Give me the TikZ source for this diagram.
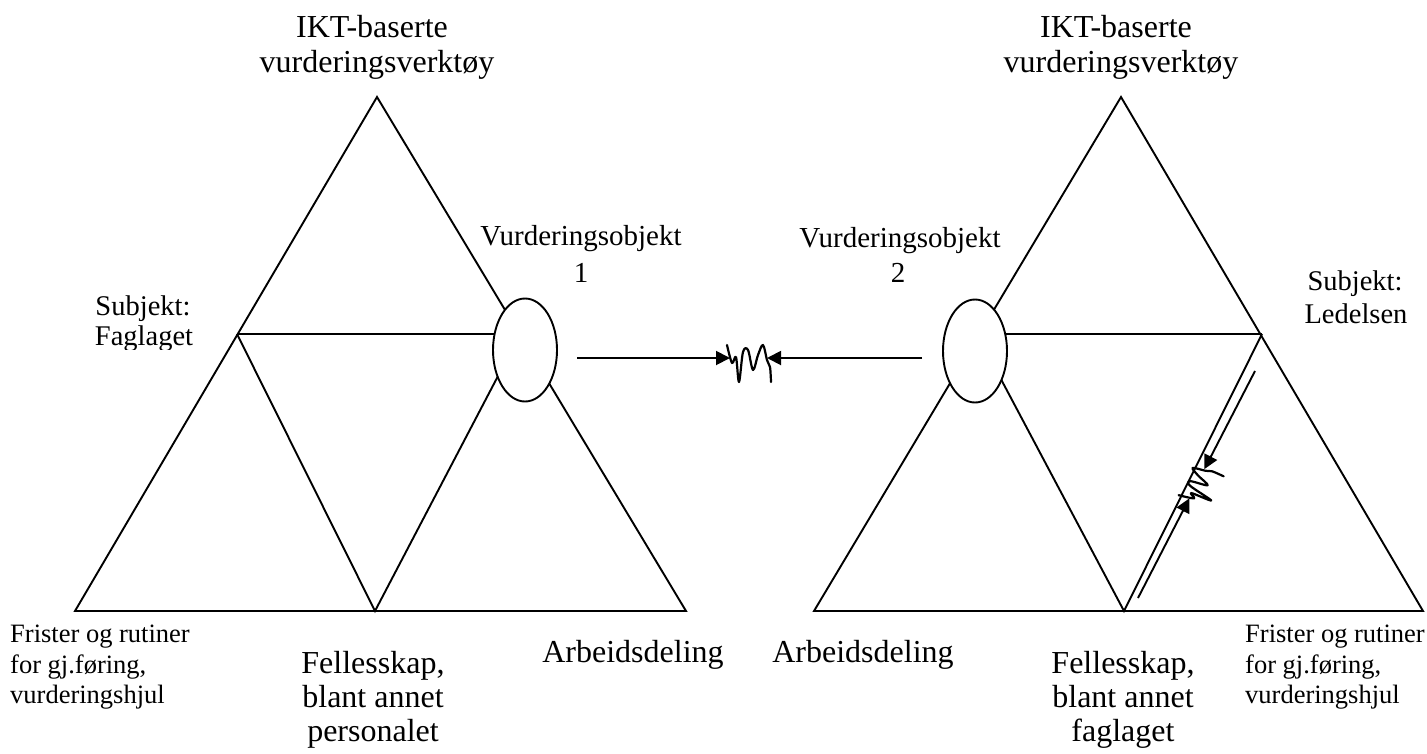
\documentclass[tikz,border=0pt]{standalone}
\usepackage{fontspec}
\setmainfont{Liberation Serif}
\usetikzlibrary{arrows.meta,shapes.geometric}
\begin{document}
\begin{tikzpicture}[x=1pt,y=-1pt,
  edge/.style={line width=1.9pt, line join=miter},
  bub/.style={ellipse, draw, line width=1.9pt, fill=white,
    minimum width=64pt, minimum height=103pt, inner sep=0pt},
  conflict/.style={line width=1.9pt, -{Triangle[length=14pt,width=14pt]}},
  lbl/.style={anchor=base, inner sep=0pt},
  big/.style={lbl, font=\fontsize{32}{38}\selectfont},
  mid/.style={lbl, font=\fontsize{29}{35}\selectfont},
  subj/.style={lbl, font=\fontsize{28.5}{34}\selectfont},
  small/.style={lbl, anchor=base west, font=\fontsize{26.5}{31}\selectfont},
  squiggle/.pic={
    \draw[line width=2.2pt, line cap=round, line join=round]
      plot[smooth, tension=0.55] coordinates {
        (0,-13) (5,5) (9,-1) (12,24) (16,-6) (21,-8) (26,12)
        (31,-3) (36,-13) (40,2) (43,9) (44,24)};
  }]
\useasboundingbox (0,0) rectangle (1427,753);

% ---------- left activity triangle ----------
\coordinate (LA) at (377,97);
\coordinate (LB) at (75,611);
\coordinate (LC) at (686,611);
\coordinate (LM) at (237,334);
\coordinate (LN) at (520,334);
\coordinate (LD) at (375,611);
\draw[edge] (LA) -- (LB) -- (LC) -- cycle;
\draw[edge] (LM) -- (LN);
\draw[edge] (LM) -- (LD) -- (LN);
\node[bub] (LE) at (525,350) {};

% ---------- right activity triangle ----------
\coordinate (RA) at (1121,97);
\coordinate (RB) at (814,611);
\coordinate (RC) at (1423,611);
\coordinate (RM) at (977,334);
\coordinate (RN) at (1262,334);
\coordinate (RD) at (1124,611);
\draw[edge] (RA) -- (RB) -- (RC) -- cycle;
\draw[edge] (RM) -- (RN);
\draw[edge] (RM) -- (RD) -- (RN);
\node[bub] (RE) at (975,351) {};

% ---------- conflict between the two assessment objects ----------
\coordinate (hL) at (577,358);
\coordinate (hLt) at (730,358);
\coordinate (hR) at (922,358);
\coordinate (hRt) at (767,358);
\draw[conflict] (hL) -- (hLt);
\draw[conflict] (hR) -- (hRt);
\pic at (727,358) {squiggle};

% ---------- conflict along the subject/community edge ----------
\coordinate (dB) at (1138,598);
\coordinate (dBt) at (1189.3,498.4);
\coordinate (dT) at (1255,371);
\coordinate (dTt) at (1204.4,469.1);
\coordinate (dS) at (1188.4,500.2);
\draw[conflict] (dB) -- (dBt);
\draw[conflict] (dT) -- (dTt);
\pic[rotate=62.7, scale=0.85] at (dS) {squiggle};

% ---------- labels, left ----------
\node[big] (ikt1a) at (372,37) {IKT-baserte};
\node[big] (ikt1b) at (377,72) {vurderingsverktøy};
\node[mid] (vo1a) at (581,245) {Vurderingsobjekt};
\node[mid] (vo1b) at (581,282) {1};
\node[subj] (sub1a) at (143,315) {Subjekt:};
\begin{scope}
  \clip (0,0) rectangle (300,349);
  \node[subj] (sub1b) at (144,345) {Faglaget};
\end{scope}
\node[small] (fr1a) at (10,642) {Frister og rutiner};
\node[small] (fr1b) at (10,673) {for gj.føring,};
\node[small] (fr1c) at (10,703) {vurderingshjul};
\node[big] (fe1a) at (373,673) {Fellesskap,};
\node[big] (fe1b) at (373,707) {blant annet};
\node[big] (fe1c) at (373,741) {personalet};
\node[big] (ar1) at (633,662) {Arbeidsdeling};

% ---------- labels, right ----------
\node[big] (ikt2a) at (1116,37) {IKT-baserte};
\node[big] (ikt2b) at (1121,72) {vurderingsverktøy};
\node[mid] (vo2a) at (900,247) {Vurderingsobjekt};
\node[mid] (vo2b) at (898,282) {2};
\node[subj] (sub2a) at (1355,290) {Subjekt:};
\node[subj] (sub2b) at (1356,323) {Ledelsen};
\node[small] (fr2a) at (1245,642) {Frister og rutiner};
\node[small] (fr2b) at (1245,673) {for gj.føring,};
\node[small] (fr2c) at (1245,703) {vurderingshjul};
\node[big] (fe2a) at (1123,673) {Fellesskap,};
\node[big] (fe2b) at (1123,707) {blant annet};
\node[big] (fe2c) at (1123,741) {faglaget};
\node[big] (ar2) at (863,662) {Arbeidsdeling};
\end{tikzpicture}
\end{document}
